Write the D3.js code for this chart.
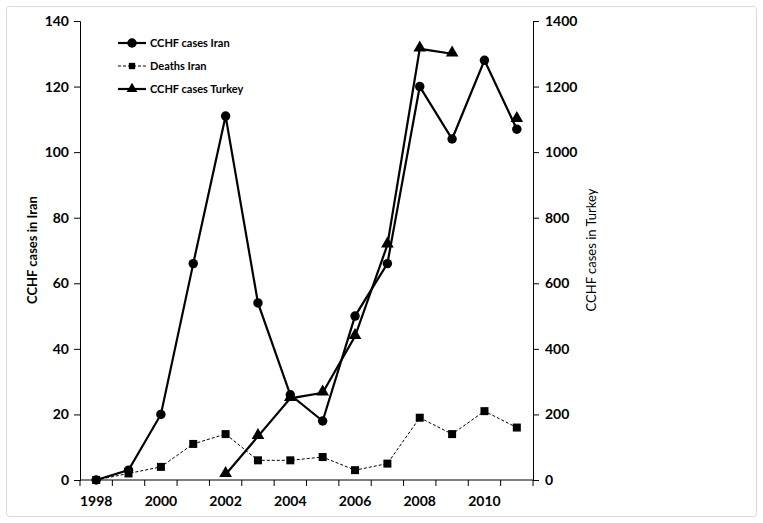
<!DOCTYPE html>
<html><head><meta charset="utf-8">
<script src="https://cdn.jsdelivr.net/npm/d3@7"></script>
<style>body{margin:0;background:#fff}svg{display:block}text{font-family:Lato,"Open Sans",sans-serif}</style>
</head><body><svg id="c" width="763" height="523"></svg>
<script>
const years = [1998,1999,2000,2001,2002,2003,2004,2005,2006,2007,2008,2009,2010,2011];
const iranCases = [0,3,20,66,111,54,26,18,50,66,120,104,128,107];
const iranDeaths = [0,2,4,11,14,6,6,7,3,5,19,14,21,16];
const turkeyCases = [null,null,null,null,17,133,249,266,438,717,1315,1300,null,1100];
const xLabels = [1998,2000,2002,2004,2006,2008,2010];
const leftTicks = [0,20,40,60,80,100,120,140];
const rightTicks = [0,200,400,600,800,1000,1200,1400];

const svg = d3.select("#c");
svg.append("rect").attr("x",6.5).attr("y",6.5).attr("width",750).attr("height",510)
  .attr("rx",3).attr("fill","#fff").attr("stroke","#d9d9d9").attr("stroke-width",1);

const L=80, R=533, T=21, B=480;
const x = d3.scaleBand().domain(years).range([L,R]).padding(0);
const cx = d => x(d)+x.bandwidth()/2;
const yL = d3.scaleLinear().domain([0,140]).range([B,T]);
const yR = d3.scaleLinear().domain([0,1400]).range([B,T]);

const gl = svg.append("g").attr("transform",`translate(${L},0)`)
  .call(d3.axisLeft(yL).tickValues(leftTicks).tickFormat(d3.format("d")).tickSize(6).tickPadding(5));
const gr = svg.append("g").attr("transform",`translate(${R},0)`)
  .call(d3.axisRight(yR).tickValues(rightTicks).tickFormat(d3.format("d")).tickSize(6).tickPadding(6));
const gx = svg.append("g").attr("transform",`translate(0,${B})`);
const edges = years.map(y=>x(y)).concat([R]);
gx.append("line").attr("x1",L).attr("x2",R).attr("stroke","#000");
gx.selectAll("line.t").data(edges).join("line").attr("class","t")
  .attr("x1",d=>d).attr("x2",d=>d).attr("y1",0).attr("y2",6).attr("stroke","#000");
gx.selectAll("text").data(xLabels).join("text")
  .attr("x",d=>cx(d)).attr("y",26).attr("text-anchor","middle")
  .attr("font-size",14).attr("font-weight","bold").text(d=>d);

[gl,gr].forEach(g=>{
  g.select(".domain").attr("stroke","#000");
  g.selectAll(".tick line").attr("stroke","#000");
  g.selectAll(".tick text").attr("font-size",14).attr("font-weight","bold")
   .attr("font-family","Lato,'Open Sans',sans-serif").attr("fill","#000");
});

svg.append("text").attr("transform","translate(37,250) rotate(-90)")
  .attr("text-anchor","middle").attr("font-size",13).attr("font-weight","bold").text("CCHF cases in Iran");
svg.append("text").attr("transform","translate(596,250) rotate(-90)")
  .attr("text-anchor","middle").attr("font-size",13).text("CCHF cases in Turkey");

const lineL = d3.line().defined(d=>d[1]!=null).x(d=>cx(d[0])).y(d=>yL(d[1]));
const lineR = d3.line().defined(d=>d[1]!=null).x(d=>cx(d[0])).y(d=>yR(d[1]));
const pts = arr => years.map((y,i)=>[y,arr[i]]);

svg.append("path").datum(pts(iranDeaths)).attr("d",lineL).attr("fill","none")
  .attr("stroke","#000").attr("stroke-width",1).attr("stroke-dasharray","3,2");
svg.append("path").datum(pts(iranCases)).attr("d",lineL).attr("fill","none")
  .attr("stroke","#000").attr("stroke-width",2.2);
svg.append("path").datum(pts(turkeyCases)).attr("d",lineR).attr("fill","none")
  .attr("stroke","#000").attr("stroke-width",2.2);

const sq = d3.symbol().type(d3.symbolSquare).size(64);
const ci = d3.symbol().type(d3.symbolCircle).size(70);
const tr = d3.symbol().type(d3.symbolTriangle).size(70);

svg.selectAll("path.sq").data(pts(iranDeaths)).join("path").attr("class","sq")
  .attr("d",sq).attr("transform",d=>`translate(${cx(d[0])},${yL(d[1])})`);
svg.selectAll("path.ci").data(pts(iranCases)).join("path").attr("class","ci")
  .attr("d",ci).attr("transform",d=>`translate(${cx(d[0])},${yL(d[1])})`);
svg.selectAll("path.tr").data(pts(turkeyCases).filter(d=>d[1]!=null)).join("path").attr("class","tr")
  .attr("d",tr).attr("transform",d=>`translate(${cx(d[0])},${yR(d[1])-1})`);

const legend = [
  {name:"CCHF cases Iran", sym:ci, dash:null, w:2.2},
  {name:"Deaths Iran", sym:d3.symbol().type(d3.symbolSquare).size(40), dash:"3,2", w:1},
  {name:"CCHF cases Turkey", sym:d3.symbol().type(d3.symbolTriangle).size(50), dash:null, w:2.2}
];
const lg = svg.append("g");
legend.forEach((d,i)=>{
  const y = 43 + i*23;
  lg.append("line").attr("x1",118).attr("x2",146).attr("y1",y).attr("y2",y)
    .attr("stroke","#000").attr("stroke-width",d.w).attr("stroke-dasharray",d.dash);
  lg.append("path").attr("d",d.sym).attr("transform",`translate(132,${y})`);
  lg.append("text").attr("x",150).attr("y",y+4).attr("font-size",11).attr("font-weight","bold").text(d.name);
});
</script></body></html>
